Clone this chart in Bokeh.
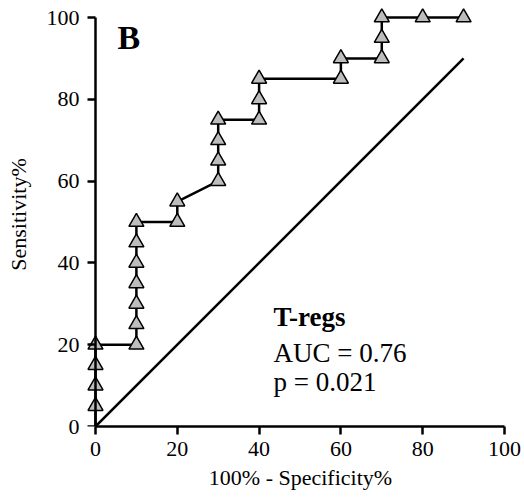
from bokeh.plotting import figure
from bokeh.models import Range1d, Label, LinearAxis
from bokeh.embed import file_html
from bokeh.resources import INLINE

# ROC data (100% - specificity, sensitivity)
fpr = [0, 0, 0, 0, 0, 10, 10, 10, 10, 10, 10, 10, 20, 20, 30, 30, 30, 30,
       40, 40, 40, 60, 60, 70, 70, 70, 80, 90]
sens = [0, 5, 10, 15, 20, 20, 25, 30, 35, 40, 45, 50, 50, 55, 60, 65, 70, 75,
        75, 80, 85, 85, 90, 90, 95, 100, 100, 100]
diag_x = [0, 90]
diag_y = [0, 90]
ticks = [0, 20, 40, 60, 80, 100]

FONT = "Liberation Serif"

p = figure(width=524, height=497, output_backend="svg", toolbar_location=None,
           x_range=Range1d(-2.2, 102.45), y_range=Range1d(0, 103.67),
           min_border_left=86, min_border_right=10, min_border_top=2,
           min_border_bottom=71)
p.outline_line_color = None
p.xgrid.visible = False
p.ygrid.visible = False
p.background_fill_color = "white"

p.line(diag_x, diag_y, line_color="black", line_width=2.5)
p.line(fpr, sens, line_color="black", line_width=2.5)
p.scatter(fpr[1:], sens[1:], marker="triangle", size=15, fill_color="#bdbdbd",
          line_color="black", line_width=1.5)


def style(ax):
    ax.ticker = ticks
    ax.bounds = (0, 100)
    ax.axis_line_width = 2.5
    ax.major_tick_line_width = 2.5
    ax.major_tick_out = 8
    ax.major_tick_in = 0
    ax.minor_tick_out = 0
    ax.minor_tick_in = 0
    ax.major_label_text_font = FONT
    ax.major_label_text_font_size = "22px"
    ax.major_label_text_color = "black"
    ax.axis_label_text_font = FONT
    ax.axis_label_text_font_size = "22px"
    ax.axis_label_text_font_style = "normal"
    ax.axis_label_text_color = "black"


# x axis (below the frame)
xax = p.xaxis[0]
style(xax)
xax.axis_label = "100% - Specificity%"
xax.major_label_standoff = 7
xax.axis_label_standoff = 6

# y axis line and ticks, drawn at x = 0
yline = p.yaxis[0]
style(yline)
yline.fixed_location = 0
yline.major_label_text_color = None
yline.axis_label = None

# y axis tick labels and title, in the left panel
ylab = LinearAxis(axis_label="Sensitivity%")
style(ylab)
ylab.axis_line_color = None
ylab.major_tick_line_color = None
ylab.major_tick_out = 0
ylab.major_label_standoff = 7
ylab.axis_label_standoff = 13
p.add_layout(ylab, "left")

p.add_layout(Label(x=5.4, y=90.7, text="B", text_font=FONT, text_font_size="34px",
                   text_font_style="bold", text_color="black"))
p.add_layout(Label(x=43.5, y=23.2, text="T-regs", text_font=FONT, text_font_size="27px",
                   text_font_style="bold", text_color="black"))
p.add_layout(Label(x=43.5, y=14.4, text="AUC = 0.76", text_font=FONT, text_font_size="27px",
                   text_color="black"))
p.add_layout(Label(x=43.5, y=7.1, text="p = 0.021", text_font=FONT, text_font_size="27px",
                   text_color="black"))

open("out.html", "w").write(file_html(p, INLINE))
